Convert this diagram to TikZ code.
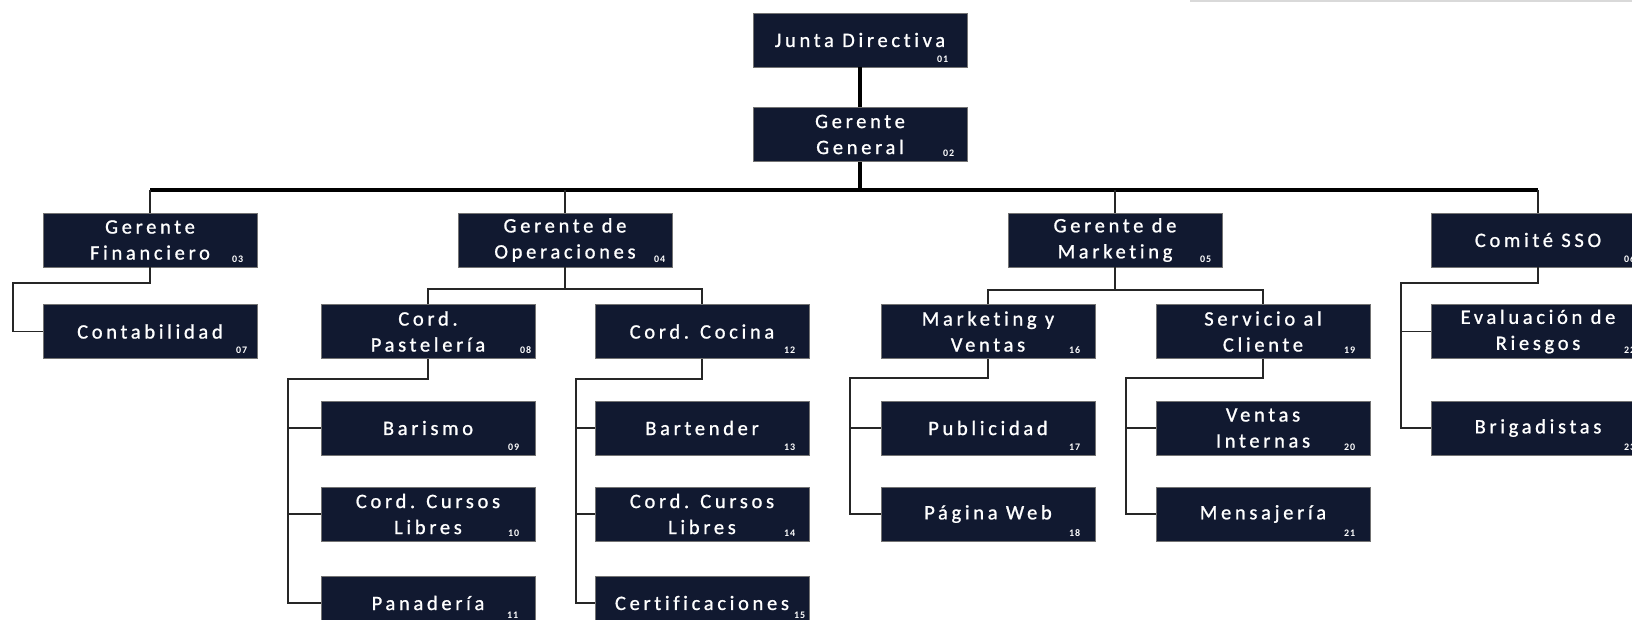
\documentclass[tikz,border=0pt]{standalone}
\usepackage{fontspec}
\setmainfont{Carlito}[LetterSpace=18,Ligatures=NoCommon,FakeBold=1]
\newfontfamily\numfont{Carlito}[LetterSpace=8,Ligatures=NoCommon]
\definecolor{boxnavy}{HTML}{111930}
\newcommand\nlab[4][15]{\node[num] (#2n) at ([xshift=-#1pt,yshift=#4pt]#2.south east) {#3};}
\begin{document}
\begin{tikzpicture}[x=1pt,y=-1pt,
  box/.style={rectangle, fill=boxnavy, draw=black!55, line width=0.7pt,
    minimum width=214pt, minimum height=54pt, inner sep=0pt, text=white,
    align=center, font=\fontsize{20.5}{26}\selectfont},
  num/.style={anchor=south east, inner sep=0pt, text=white,
    font=\numfont\bfseries\fontsize{10}{10}\selectfont},
  mainline/.style={line width=4pt, black},
  conn/.style={line width=1.6pt, black!85}]
\useasboundingbox (0,0) rectangle (1632,619);
\clip (0,0) rectangle (1632,619);
\draw[gray!30, line width=2pt] (1190,0.8) -- (1632,0.8);

% level 0
\node[box] (junta) at (860,40) {Junta Directiva};
\node[box] (gg) at (860,134.5) {Gerente\\General};
% level 1
\node[box] (fin) at (150,240) {Gerente\\Financiero};
\node[box] (ops) at (565,240) {Gerente de\\Operaciones};
\node[box] (mkt) at (1115,240) {Gerente de\\Marketing};
\node[box] (sso) at (1538,240) {Comité SSO};
% level 2
\node[box] (cont) at (150,331.5) {Contabilidad};
\node[box] (past) at (428,331.5) {Cord.\\Pastelería};
\node[box] (coc) at (702,331.5) {Cord. Cocina};
\node[box] (mkv) at (988,331.5) {Marketing y\\Ventas};
\node[box] (serv) at (1263,331.5) {Servicio al\\Cliente};
\node[box] (eval) at (1538,331.5) {Evaluación de\\Riesgos};
% level 3
\node[box] (baris) at (428,428) {Barismo};
\node[box] (bart) at (702,428) {Bartender};
\node[box] (publ) at (988,428) {Publicidad};
\node[box] (vint) at (1263,428) {Ventas\\Internas};
\node[box] (brig) at (1538,428) {Brigadistas};
% level 4
\node[box] (cur1) at (428,514) {Cord. Cursos\\Libres};
\node[box] (cur2) at (702,514) {Cord. Cursos\\Libres};
\node[box] (web) at (988,514) {Página Web};
\node[box] (mens) at (1263,514) {Mensajería};
% level 5
\node[box] (pan) at (428,603) {Panadería};
\node[box] (cert) at (702,603) {Certificaciones};

% numbers
\nlab[19]{junta}{01}{5}
\nlab[13]{gg}{02}{5}
\nlab[14]{fin}{03}{5}
\nlab[7]{ops}{04}{5}
\nlab[11]{mkt}{05}{5}
\nlab[10]{sso}{06}{5}
\nlab[10]{cont}{07}{5}
\nlab[4]{past}{08}{5}
\nlab[16]{baris}{09}{5}
\nlab[16]{cur1}{10}{5}
\nlab[17]{pan}{11}{11.5}
\nlab[14]{coc}{12}{5}
\nlab[14]{bart}{13}{5}
\nlab[14]{cur2}{14}{5}
\nlab[4]{cert}{15}{11.5}
\nlab{mkv}{16}{5}
\nlab{publ}{17}{5}
\nlab{web}{18}{5}
\nlab{serv}{19}{5}
\nlab{vint}{20}{5}
\nlab{mens}{21}{5}
\nlab[10]{eval}{22}{5}
\nlab[10]{brig}{23}{5}

% main trunk
\coordinate (barL) at (150,190);
\coordinate (barR) at (1538,190);
\draw[mainline] (junta) -- (gg);
\draw[mainline] (gg.south) -- (gg.south |- barL);
\draw[mainline] (barL) -- (barR);
\draw[conn] (fin.north) -- (fin.north |- barL);
\draw[conn] (ops.north) -- (ops.north |- barL);
\draw[conn] (mkt.north) -- (mkt.north |- barL);
\draw[conn] (sso.north) -- (sso.north |- barR);

% Financiero
\coordinate (finT) at (13,283);
\draw[conn] (fin.south) |- (finT) |- (cont.west);

% Operaciones
\coordinate (opsbar) at (565,289);
\draw[conn] (ops.south) -- (ops.south |- opsbar);
\draw[conn] (past.north) |- (coc.north |- opsbar) -- (coc.north);

% Pasteleria
\coordinate (pT) at (288,379);
\draw[conn] (past.south) |- (pT) |- (pan.west);
\draw[conn] (pT |- baris.west) -- (baris.west);
\draw[conn] (pT |- cur1.west) -- (cur1.west);

% Cocina
\coordinate (cT) at (576,379);
\draw[conn] (coc.south) |- (cT) |- (cert.west);
\draw[conn] (cT |- bart.west) -- (bart.west);
\draw[conn] (cT |- cur2.west) -- (cur2.west);

% Marketing
\coordinate (mktbar) at (1115,290);
\draw[conn] (mkt.south) -- (mkt.south |- mktbar);
\draw[conn] (mkv.north) |- (serv.north |- mktbar) -- (serv.north);

% Marketing y Ventas
\coordinate (mT) at (850,378);
\draw[conn] (mkv.south) |- (mT) |- (web.west);
\draw[conn] (mT |- publ.west) -- (publ.west);

% Servicio al Cliente
\coordinate (sT) at (1126,378);
\draw[conn] (serv.south) |- (sT) |- (mens.west);
\draw[conn] (sT |- vint.west) -- (vint.west);

% Comite SSO
\coordinate (ssoT) at (1401,283);
\draw[conn] (sso.south) |- (ssoT) |- (brig.west);
\draw[conn] (ssoT |- eval.west) -- (eval.west);
\end{tikzpicture}
\end{document}
